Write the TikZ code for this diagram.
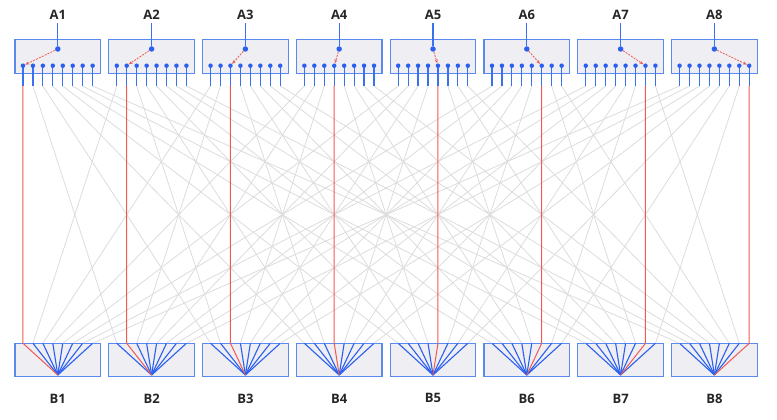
\documentclass[tikz,border=0pt]{standalone}
\usepackage{fontspec}
\setmainfont{Open Sans}
\usetikzlibrary{arrows.meta}
\definecolor{boxfill}{HTML}{EEEEF3}
\definecolor{boxline}{HTML}{5A8AF0}
\definecolor{bl}{HTML}{2A5FF0}
\definecolor{stemc}{HTML}{3A70F2}
\definecolor{rd}{HTML}{F05A50}
\definecolor{gr}{HTML}{DCDCDC}
\begin{document}
\begin{tikzpicture}[x=1pt,y=-1pt,
 switchbox/.style={draw=boxline, fill=boxfill, line width=1.1pt, minimum width=85.6pt, minimum height=33.4pt, inner sep=0pt, outer sep=0pt},
 lab/.style={font=\bfseries\fontsize{13}{13}\selectfont, text=black!85},
 dot/.style={circle, fill=bl, inner sep=0pt, minimum size=4.5pt},
 cdot/.style={circle, fill=bl, inner sep=0pt, minimum size=5.5pt},
 grline/.style={draw=gr, line width=0.8pt},
 redline/.style={draw=rd, line width=1pt},
 blline/.style={draw=bl, line width=1.1pt},
 stem/.style={draw=stemc, line width=1.2pt},
 arr/.style={draw=rd, line width=0.8pt, dashed, dash pattern=on 2pt off 1.2pt, -{Stealth[length=4pt,width=3pt]}}]
\useasboundingbox (0,0) rectangle (777,420);
\foreach \i in {1,...,8} {
  \pgfmathsetmacro\cx{57.8+93.8*(\i-1)}
  \node[switchbox] (A\i) at (\cx,56.5) {};
  \node[switchbox] (B\i) at (\cx,360) {};
  \node[lab] (LA\i) at (\cx,14.7) {A\i};
  \node[lab] (LB\i) at (\cx,398.4) {B\i};
  \coordinate (bc\i) at (\cx,375);
  \foreach \j in {1,...,8} {
    \pgfmathsetmacro\dx{\cx+(\j-4.5)*9.95}
    \coordinate (ap\i-\j) at (\dx,65.7);
    \coordinate (ab\i-\j) at (\dx,86);
    \coordinate (bt\i-\j) at (\dx,343.3);
  }
}
% grey interconnect
\foreach \i in {1,...,8} {
  \foreach \j in {1,...,8} {
    \ifnum\i=\j\else
      \draw[grline] (ab\i-\j) -- (bt\j-\i);
    \fi
  }
}
% B fans
\foreach \i in {1,...,8} {
  \foreach \j in {1,...,8} {
    \ifnum\i=\j\else
      \draw[blline] (bt\i-\j) -- (bc\i);
    \fi
  }
}
% red paths
\foreach \i in {1,...,8} {
  \draw[redline] (ab\i-\i) -- (bt\i-\i) -- (bc\i);
}
% stems and dots
\foreach \i in {1,...,8} {
  \foreach \j in {1,...,8} {
    \draw[stem] (ap\i-\j) -- (ab\i-\j);
    \node[dot] (ad\i-\j) at (ap\i-\j) {};
  }
  \pgfmathsetmacro\cx{57.8+93.8*(\i-1)}
  \node[cdot] (ac\i) at (\cx,49) {};
  \draw[stem, line width=1.1pt] (LA\i.south) -- (ac\i);
  \draw[arr] (ac\i) -- (ad\i-\i);
}
\end{tikzpicture}
\end{document}
